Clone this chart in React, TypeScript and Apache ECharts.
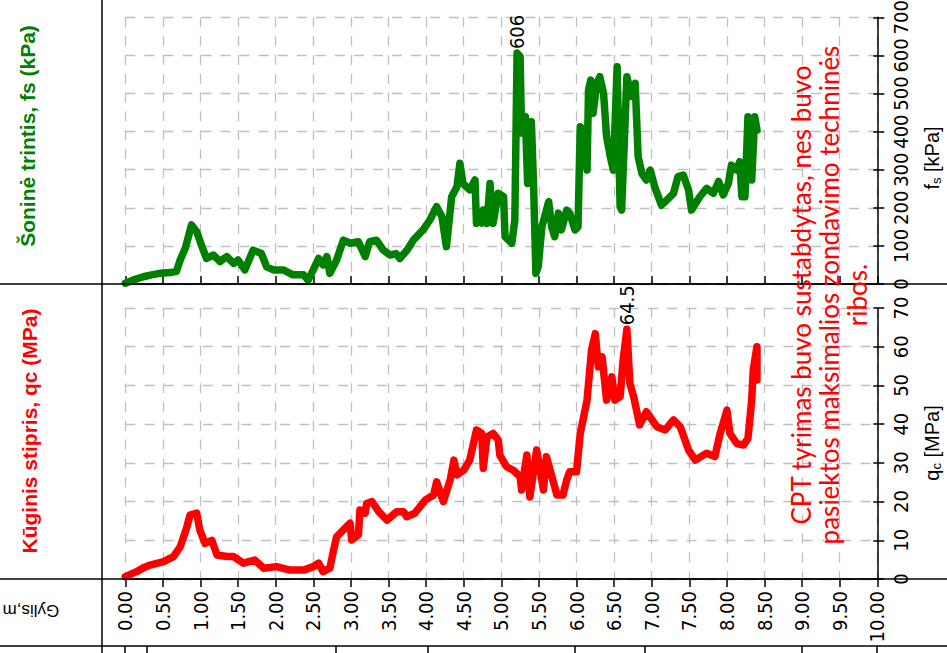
import React, { useEffect, useRef } from "react";
import * as echarts from "echarts";

// ---- data (depth in m) ----
const fsDepth = [
  0.0, 0.1, 0.24, 0.35, 0.46, 0.6, 0.68, 0.73, 0.8, 0.88, 0.95, 1.02, 1.08, 1.17, 1.26, 1.35, 1.44, 1.5, 1.59, 1.7,
  1.81, 1.88, 1.97, 2.1, 2.23, 2.37, 2.43, 2.5, 2.57, 2.63, 2.68, 2.72, 2.81, 2.9, 2.99, 3.1, 3.19, 3.25, 3.34, 3.43,
  3.52, 3.6, 3.65, 3.75, 3.83, 3.96, 4.05, 4.14, 4.21, 4.27, 4.34, 4.41, 4.45, 4.49, 4.58, 4.65, 4.67, 4.7, 4.74, 4.76,
  4.81, 4.85, 4.89, 4.96, 5.03, 5.05, 5.14, 5.18, 5.21, 5.25, 5.27, 5.32, 5.35, 5.4, 5.43, 5.46, 5.49, 5.54, 5.63, 5.67,
  5.71, 5.76, 5.8, 5.87, 5.91, 5.98, 6.02, 6.05, 6.09, 6.14, 6.16, 6.19, 6.22, 6.27, 6.31, 6.36, 6.4, 6.45, 6.49, 6.54,
  6.58, 6.6, 6.67, 6.73, 6.78, 6.82, 6.87, 6.93, 6.98, 7.04, 7.13, 7.2, 7.29, 7.35, 7.42, 7.49, 7.53, 7.64, 7.73, 7.82,
  7.89, 7.95, 8.02, 8.06, 8.13, 8.17, 8.2, 8.24, 8.28, 8.33, 8.37, 8.4,
];
const fsValue = [
  2, 10, 19, 24, 28, 30, 33, 63, 95, 155, 137, 98, 67, 76, 59, 72, 54, 63, 37, 89,
  80, 45, 37, 37, 24, 24, 10, 37, 67, 50, 72, 28, 63, 115, 107, 111, 72, 111, 115, 89,
  76, 80, 67, 90, 115, 142, 168, 203, 177, 98, 229, 255, 317, 264, 247, 273, 159, 172, 160, 194,
  159, 264, 159, 238, 229, 124, 107, 168, 606, 597, 396, 439, 264, 426, 255, 28, 45, 150, 216, 150,
  124, 186, 142, 194, 186, 142, 150, 413, 404, 299, 509, 535, 448, 527, 544, 500, 387, 334, 299, 570,
  203, 194, 544, 492, 527, 334, 290, 273, 299, 255, 207, 220, 238, 282, 286, 247, 194, 229, 251, 238,
  269, 234, 264, 312, 299, 321, 229, 229, 439, 273, 439, 404,
];
const qcDepth = [
  0.0, 0.15, 0.25, 0.33, 0.51, 0.64, 0.73, 0.82, 0.86, 0.95, 0.99, 1.06, 1.15, 1.22, 1.35, 1.44, 1.57, 1.72, 1.84, 2.01,
  2.19, 2.37, 2.5, 2.57, 2.63, 2.72, 2.77, 2.81, 2.92, 2.99, 3.01, 3.1, 3.12, 3.19, 3.21, 3.28, 3.37, 3.48, 3.61, 3.7,
  3.74, 3.85, 3.99, 4.1, 4.14, 4.23, 4.32, 4.37, 4.41, 4.5, 4.58, 4.67, 4.74, 4.76, 4.81, 4.89, 4.96, 4.98, 5.07, 5.16,
  5.25, 5.27, 5.34, 5.38, 5.47, 5.51, 5.56, 5.6, 5.74, 5.82, 5.87, 5.91, 6.0, 6.05, 6.14, 6.2, 6.25, 6.29, 6.34, 6.4,
  6.47, 6.51, 6.58, 6.62, 6.67, 6.71, 6.76, 6.84, 6.93, 7.07, 7.18, 7.29, 7.38, 7.49, 7.58, 7.73, 7.84, 7.91, 7.95, 8.0,
  8.04, 8.13, 8.22, 8.28, 8.33, 8.35, 8.4, 8.4,
];
const qcValue = [
  0.6, 1.9, 3.0, 3.6, 4.5, 5.8, 8.3, 13.5, 16.5, 17, 12.7, 9.2, 10, 6.2, 5.8, 5.8, 4.1, 4.9, 2.8, 3.2,
  2.3, 2.3, 3.2, 4.1, 1.9, 2.8, 7.5, 10.9, 13.1, 14.4, 10.1, 11.4, 17.8, 17, 19.5, 20, 17.4, 15.2, 17.4, 17.4,
  16.1, 17, 20.4, 21.7, 25.1, 20, 25.6, 30.7, 26.9, 28.1, 30.7, 38.5, 37.6, 28.6, 36.7, 37.6, 35.9, 32, 29, 28.1,
  26.4, 23, 32, 21.2, 33.3, 29, 23, 31.6, 21.7, 21.7, 25.6, 27.7, 27.7, 37.6, 46.2, 59.1, 63.4, 54.8, 57.4, 46.2,
  52.2, 46.2, 47.1, 56.5, 64.5, 50.5, 47.1, 39.8, 43.2, 39.3, 38.5, 41.1, 39.3, 33.3, 30.7, 32.5, 31.6, 37.6, 40.2, 43.6,
  37.6, 35, 34.6, 36.3, 46.2, 54, 60, 51.4,
];

const FS_TITLE = "Šoninė trintis, fs (kPa)";
const QC_TITLE = "Kūginis stipris, qc (MPa)";
const DEPTH_TITLE = "Gylis,m";
const NOTE_LINES = [
  "CPT tyrimas buvo sustabdytas, nes buvo",
  "pasiektos maksimalios zondavimo techninės",
  "ribos.",
];

const TICK_FONT = '"Liberation Sans Narrow", "DejaVu Sans Condensed", "Liberation Sans", Arial, sans-serif';
const SANS = '"Liberation Sans", Arial, sans-serif';
const GREEN = "#008000";
const RED = "#ff0000";
const GRID_GRAY = "#c0c0c0";

function peakOf(ds: number[], vs: number[]) {
  let k = 0;
  vs.forEach((v, i) => {
    if (v > vs[k]) k = i;
  });
  return [ds[k], vs[k]];
}

export default function App() {
  const ref = useRef<HTMLDivElement>(null);
  useEffect(() => {
    const chart = echarts.init(ref.current!, null, { renderer: "svg" });
    const fsData = fsDepth.map((d, i) => [d, fsValue[i]]);
    const qcData = qcDepth.map((d, i) => [d, qcValue[i]]);

    const xBase = (gridIndex: number) => ({
      type: "value",
      gridIndex,
      min: 0,
      max: 10,
      interval: 0.5,
      axisLine: { show: true, onZero: false, lineStyle: { color: "#000", width: 1.5 } },
      splitLine: { show: true, lineStyle: { color: GRID_GRAY, width: 1.3, type: [10, 8.8] } },
    });
    const yMain = (gridIndex: number, max: number, interval: number, dash: number) => ({
      type: "value",
      gridIndex,
      min: 0,
      max,
      interval,
      position: "right",
      axisLine: { show: true, onZero: false, lineStyle: { color: "#000", width: 1.5 } },
      axisTick: { show: true, inside: false, length: 7, lineStyle: { color: "#000", width: 1.5 } },
      axisLabel: {
        show: true,
        rotate: 90,
        margin: 14,
        fontSize: 20,
        fontFamily: TICK_FONT,
        color: "#000",
        showMinLabel: true,
        showMaxLabel: true,
      },
      splitLine: { show: true, lineStyle: { color: GRID_GRAY, width: 1.3, type: [10, dash] } },
    });
    const yInner = (gridIndex: number, max: number, interval: number) => ({
      type: "value",
      gridIndex,
      min: 0,
      max,
      interval,
      position: "right",
      axisLine: { show: false, onZero: false },
      axisTick: { show: true, inside: true, length: 4, lineStyle: { color: "#000", width: 1.5 } },
      axisLabel: { show: false },
      splitLine: { show: false },
    });

    const peakLabel = {
      show: true,
      rotate: 90,
      position: "top",
      distance: 3,
      align: "left",
      verticalAlign: "middle",
      fontSize: 20,
      fontFamily: TICK_FONT,
      color: "#000",
      opacity: 1,
      formatter: (p: any) => String(p.value[1]),
    };

    const hLine = (y: number) => ({
      type: "line",
      z: 50,
      shape: { x1: 0, y1: y, x2: 947, y2: y },
      style: { stroke: "#000", lineWidth: 1.5 },
    });
    const vLine = (x: number, y1: number, y2: number) => ({
      type: "line",
      z: 50,
      shape: { x1: x, y1, x2: x, y2 },
      style: { stroke: "#000", lineWidth: 1.5 },
    });

    const option: any = {
      animation: false,
      backgroundColor: "#fff",
      grid: [
        { left: 125.3, top: 17.3, width: 752, height: 266.7, containLabel: false, outerBoundsMode: "none" },
        { left: 125.3, top: 308, width: 752, height: 271, containLabel: false, outerBoundsMode: "none" },
      ],
      xAxis: [
        {
          ...xBase(0),
          axisTick: { show: true, inside: true, length: 8, lineStyle: { color: "#000", width: 1.5 } },
          axisLabel: { show: false },
        },
        {
          ...xBase(1),
          axisTick: { show: true, inside: false, length: 8, lineStyle: { color: "#000", width: 1.5 } },
          axisLabel: {
            show: true,
            rotate: 90,
            margin: 12,
            fontSize: 20,
            fontFamily: TICK_FONT,
            color: "#000",
            showMinLabel: true,
            showMaxLabel: true,
            formatter: (v: number) => v.toFixed(2),
          },
        },
      ],
      yAxis: [yMain(0, 700, 100, 9.05), yInner(0, 700, 100), yMain(1, 70, 10, 9.35), yInner(1, 70, 10)],
      series: [
        {
          type: "line",
          xAxisIndex: 0,
          yAxisIndex: 0,
          data: fsData,
          showSymbol: false,
          symbol: "none",
          clip: false,
          z: 5,
          lineStyle: { color: GREEN, width: 7.5, join: "round", cap: "round" },
        },
        {
          type: "line",
          xAxisIndex: 1,
          yAxisIndex: 2,
          data: qcData,
          showSymbol: false,
          symbol: "none",
          clip: false,
          z: 5,
          lineStyle: { color: RED, width: 7.5, join: "round", cap: "round" },
        },
        {
          type: "scatter",
          xAxisIndex: 0,
          yAxisIndex: 0,
          data: [peakOf(fsDepth, fsValue)],
          symbolSize: 2,
          itemStyle: { color: "transparent" },
          label: peakLabel,
          z: 6,
        },
        {
          type: "scatter",
          xAxisIndex: 1,
          yAxisIndex: 2,
          data: [peakOf(qcDepth, qcValue)],
          symbolSize: 2,
          itemStyle: { color: "transparent" },
          label: peakLabel,
          z: 6,
        },
      ],
      graphic: [
        vLine(102, 0, 653),
        hLine(284),
        hLine(579),
        hLine(646),
        ...[125, 147, 336, 428, 575, 645, 802, 877].map((x) => vLine(x, 646, 653)),
        {
          type: "text",
          x: 27,
          y: 136,
          rotation: Math.PI / 2,
          z: 60,
          style: {
            text: FS_TITLE,
            fontSize: 21,
            fontWeight: "bold",
            fontFamily: SANS,
            fill: GREEN,
            align: "center",
            verticalAlign: "middle",
          },
        },
        {
          type: "text",
          x: 29,
          y: 431,
          rotation: Math.PI / 2,
          z: 60,
          style: {
            text: QC_TITLE,
            fontSize: 21,
            fontWeight: "bold",
            fontFamily: SANS,
            fill: RED,
            align: "center",
            verticalAlign: "middle",
          },
        },
        {
          type: "text",
          x: 31,
          y: 610,
          rotation: Math.PI,
          z: 60,
          style: {
            text: DEPTH_TITLE,
            fontSize: 17,
            fontFamily: SANS,
            fill: "#000",
            align: "center",
            verticalAlign: "middle",
          },
        },
        {
          type: "text",
          x: 932,
          y: 158,
          rotation: Math.PI / 2,
          z: 60,
          style: {
            text: "{n|f}{s|s}{n| [kPa]}",
            align: "center",
            verticalAlign: "middle",
            rich: {
              n: { fontSize: 20, fontFamily: SANS, fill: "#000", lineHeight: 22 },
              s: { fontSize: 13, fontFamily: SANS, fill: "#000", lineHeight: 12, verticalAlign: "bottom" },
            },
          },
        },
        {
          type: "text",
          x: 932,
          y: 443,
          rotation: Math.PI / 2,
          z: 60,
          style: {
            text: "{n|q}{s|c}{n| [MPa]}",
            align: "center",
            verticalAlign: "middle",
            rich: {
              n: { fontSize: 20, fontFamily: SANS, fill: "#000", lineHeight: 22 },
              s: { fontSize: 13, fontFamily: SANS, fill: "#000", lineHeight: 12, verticalAlign: "bottom" },
            },
          },
        },
        {
          type: "text",
          x: 829,
          y: 295,
          rotation: Math.PI / 2,
          z: 60,
          style: {
            text: NOTE_LINES.join("\n"),
            fontSize: 26,
            lineHeight: 28,
            fontFamily: 'Lato, "Open Sans", sans-serif',
            fill: RED,
            align: "center",
            verticalAlign: "middle",
          },
        },
      ],
    };
    chart.setOption(option);
    return () => chart.dispose();
  }, []);
  return (
    <div
      ref={ref}
      style={{ position: "fixed", left: 0, top: 0, width: 947, height: 653, background: "#fff" }}
    />
  );
}
